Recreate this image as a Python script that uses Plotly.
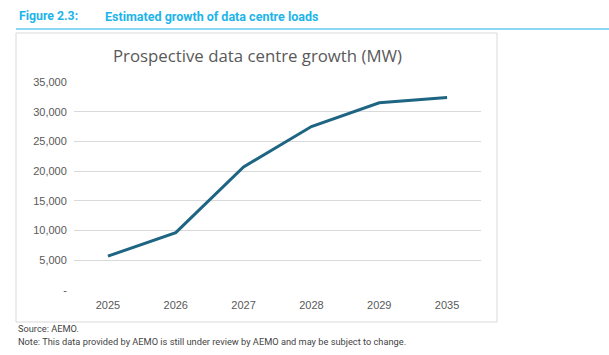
import plotly.graph_objects as go

years = ["2025", "2026", "2027", "2028", "2029", "2035"]
mw = [5700, 9650, 20700, 27500, 31500, 32400]
y_ticks = [0, 5000, 10000, 15000, 20000, 25000, 30000, 35000]
y_labels = ["-", "5,000", "10,000", "15,000", "20,000", "25,000", "30,000", "35,000"]

W, H = 609, 355
L, R, T, B = 74, 128, 82, 65
PW, PH = W - L - R, H - T - B

fig = go.Figure()
fig.add_trace(go.Scatter(x=years, y=mw, mode="lines",
                         line=dict(color="#1d6582", width=3), hoverinfo="skip"))

fig.update_layout(
    width=W, height=H,
    margin=dict(l=L, r=R, t=T, b=B),
    paper_bgcolor="white", plot_bgcolor="white",
    showlegend=False,
    font=dict(family="Liberation Sans, Arial, sans-serif", color="#595959", size=11),
    xaxis=dict(type="category", range=[-0.5, len(years) - 0.5], showgrid=False,
               zeroline=False, showline=False, ticks="outside", ticklen=5,
               tickcolor="rgba(0,0,0,0)",
               tickfont=dict(size=11, color="#595959")),
    yaxis=dict(range=[0, 35000], tickvals=y_ticks, ticktext=y_labels,
               showgrid=True, gridcolor="#d9d9d9", gridwidth=1, zeroline=False,
               showline=False, ticks="outside", ticklen=4, tickcolor="rgba(0,0,0,0)",
               tickfont=dict(size=11, color="#595959")),
)


def px(x):
    return (x - L) / PW


def py(y):
    return (H - B - y) / PH


shapes = [
    dict(type="line", xref="paper", yref="paper", x0=px(16), x1=px(609), y0=py(29), y1=py(29),
         line=dict(color="#8ad8f4", width=2)),
    dict(type="rect", xref="paper", yref="paper", x0=px(16), x1=px(497), y0=py(33), y1=py(322),
         line=dict(color="#d9d9d9", width=1), fillcolor="rgba(0,0,0,0)", layer="below"),
]
fig.update_layout(shapes=shapes)

ann = [
    dict(text="<b>Figure 2.3:</b>", x=px(17), y=py(16), xanchor="left", yanchor="middle",
         font=dict(family="Roboto, sans-serif", size=12.3, color="#1db4ea")),
    dict(text="<b>Estimated growth of data centre loads</b>", x=px(103), y=py(16), xanchor="left",
         yanchor="middle", font=dict(family="Roboto, sans-serif", size=12.5, color="#1db4ea")),
    dict(text="Prospective data centre growth (MW)", x=px(257), y=py(55), xanchor="center",
         yanchor="middle", font=dict(family="Open Sans, sans-serif", size=16.8, color="#595959")),
    dict(text="Source: AEMO.", x=px(16), y=py(328), xanchor="left", yanchor="middle",
         font=dict(family="Roboto, sans-serif", size=9.25, color="#444444")),
    dict(text="Note: This data provided by AEMO is still under review by AEMO and may be subject to change.",
         x=px(16), y=py(341), xanchor="left", yanchor="middle",
         font=dict(family="Roboto, sans-serif", size=9.25, color="#444444")),
]
for a in ann:
    a.update(xref="paper", yref="paper", showarrow=False)
fig.update_layout(annotations=ann)

fig.write_html("out.html", config={"displayModeBar": False},
               post_script="document.body.style.margin='0';")
